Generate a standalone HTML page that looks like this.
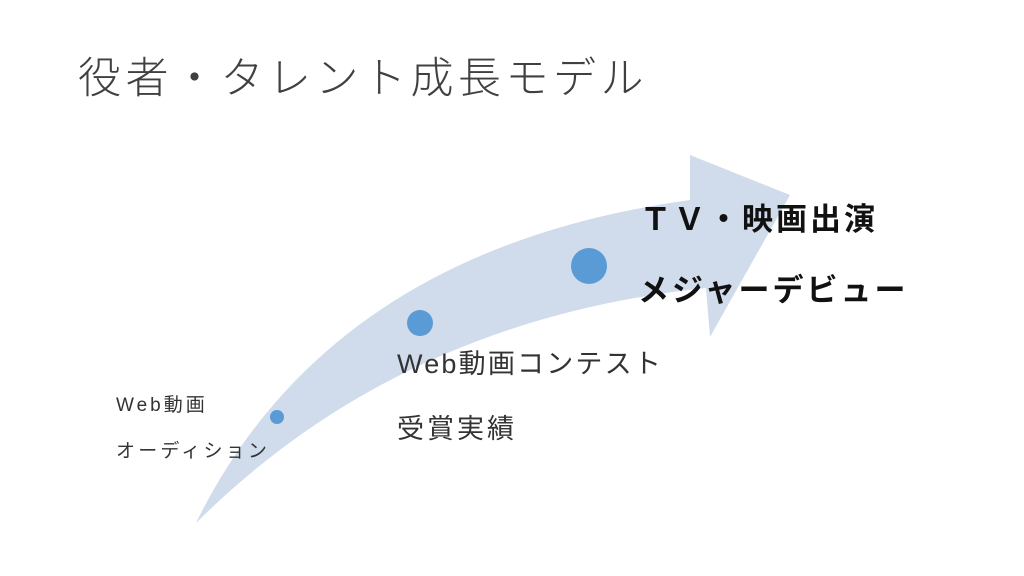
<!DOCTYPE html>
<html><head><meta charset="utf-8"><style>
body{margin:0;width:1024px;height:576px;background:#fff;position:relative;overflow:hidden;font-family:"Liberation Sans","Noto Sans CJK JP",sans-serif;}
.t{position:absolute;white-space:nowrap;line-height:1;}
</style></head><body>
<svg width="1024" height="576" style="position:absolute;left:0;top:0">
<path d="M196,523 Q330,250 690,200 L690,155 L790,195 L710,337 L706,288 Q400,320 196,523 Z" fill="#d0dbec"/>
<circle cx="277" cy="417" r="7" fill="#5b9bd5"/>
<circle cx="420" cy="323" r="13" fill="#5b9bd5"/>
<circle cx="589" cy="266" r="18" fill="#5b9bd5"/>
</svg>
<div class="t" style="left:78px;top:58px;font-size:43px;color:#404040;font-weight:300;letter-spacing:4.5px">役者・タレント成長モデル</div>
<div class="t" style="left:640px;top:204px;font-size:31px;font-weight:bold;color:#111;letter-spacing:3px">ＴＶ・映画出演</div>
<div class="t" style="left:638px;top:275px;font-size:31px;font-weight:bold;color:#111;letter-spacing:3px">メジャーデビュー</div>
<div class="t" style="left:397px;top:351px;font-size:27px;color:#333;letter-spacing:2.2px">Web動画コンテスト</div>
<div class="t" style="left:397px;top:416px;font-size:27px;color:#333;letter-spacing:3px">受賞実績</div>
<div class="t" style="left:116px;top:396px;font-size:19px;color:#333;letter-spacing:3px">Web動画</div>
<div class="t" style="left:116px;top:442px;font-size:19px;color:#333;letter-spacing:3.2px">オーディション</div>
</body></html>
